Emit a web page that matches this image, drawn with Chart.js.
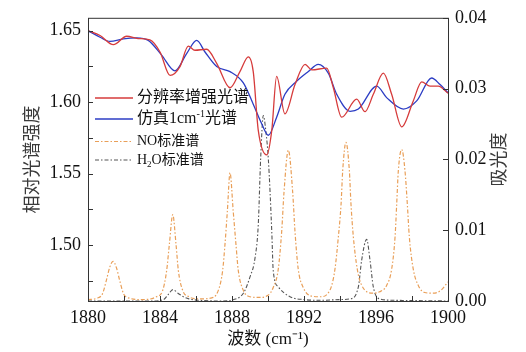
<!DOCTYPE html>
<html>
<head>
<meta charset="utf-8">
<script src="https://cdn.jsdelivr.net/npm/chart.js@4"></script>
<style>
  html, body { margin: 0; padding: 0; background: #fff; }
  #wrap { width: 526px; height: 352px; }
</style>
</head>
<body>
<div id="wrap"><canvas id="spectrum" width="526" height="352"></canvas></div>
<script>
// wavenumber (cm-1), relative intensity -- left axis
const enhancedSpectrum = [
  [1880.0, 1.650], [1880.67, 1.6466], [1881.41, 1.6402], [1882.15, 1.6461], [1882.78, 1.6445],
  [1883.44, 1.6436], [1884.0, 1.6351], [1884.56, 1.6187], [1885.11, 1.6249], [1885.57, 1.6392],
  [1885.94, 1.6363], [1886.59, 1.6370], [1887.15, 1.6272], [1887.89, 1.6101], [1888.44, 1.6214],
  [1888.91, 1.6317], [1889.18, 1.6214], [1889.46, 1.5803], [1889.93, 1.5632], [1890.21, 1.5803],
  [1890.48, 1.6180], [1890.94, 1.5918], [1891.5, 1.6123], [1892.06, 1.6265], [1892.43, 1.6226],
  [1893.26, 1.6238], [1893.63, 1.6101], [1894.09, 1.5895], [1894.93, 1.6021], [1895.39, 1.5934],
  [1895.85, 1.6055], [1896.41, 1.6203], [1896.87, 1.6055], [1897.43, 1.5827], [1898.07, 1.6009],
  [1898.54, 1.6142], [1899.0, 1.6112], [1899.46, 1.6112], [1900.0, 1.6062]
];
const simulatedSpectrum = [
  [1880.0, 1.650], [1880.67, 1.6454], [1881.22, 1.6425], [1881.96, 1.6443], [1882.7, 1.645],
  [1883.35, 1.6432], [1884.09, 1.6329], [1884.83, 1.6219], [1885.48, 1.634], [1886.04, 1.6432],
  [1886.5, 1.6351], [1887.15, 1.6249], [1887.89, 1.6214], [1888.63, 1.6135], [1889.18, 1.5986],
  [1889.65, 1.5849], [1890.02, 1.5769], [1890.48, 1.5895], [1890.94, 1.6055], [1891.59, 1.6146],
  [1892.24, 1.6214], [1892.79, 1.6265], [1893.35, 1.6203], [1893.82, 1.6055], [1894.56, 1.5936],
  [1895.02, 1.5952], [1896.04, 1.6112], [1896.59, 1.6032], [1897.52, 1.5952], [1898.26, 1.6009],
  [1899.09, 1.6169], [1899.56, 1.6123], [1900.0, 1.6066]
];
// absorbance -- right axis
const noReference = [
  [1880.0, 0.0002], [1880.5, 0.0004], [1880.8, 0.0010], [1881.02, 0.0029], [1881.2, 0.0047],
  [1881.39, 0.0056], [1881.58, 0.0047], [1881.76, 0.0029], [1881.98, 0.0010], [1882.3, 0.0004],
  [1883.0, 0.0002], [1883.8, 0.0006], [1884.15, 0.0015], [1884.37, 0.0043], [1884.52, 0.0080],
  [1884.71, 0.0122], [1884.89, 0.0080], [1885.02, 0.0043], [1885.26, 0.0015], [1885.6, 0.0006],
  [1886.2, 0.0003], [1886.8, 0.0004], [1887.24, 0.0015], [1887.48, 0.0043], [1887.61, 0.0080],
  [1887.74, 0.0126], [1887.89, 0.0181], [1888.07, 0.0126], [1888.22, 0.0080], [1888.35, 0.0043],
  [1888.63, 0.0015], [1889.0, 0.0006], [1889.5, 0.0005], [1890.0, 0.0008], [1890.29, 0.0019],
  [1890.57, 0.0045], [1890.76, 0.0098], [1890.89, 0.0154], [1891.13, 0.0213], [1891.37, 0.0154],
  [1891.5, 0.0098], [1891.68, 0.0045], [1891.96, 0.0019], [1892.4, 0.0007], [1892.9, 0.0006],
  [1893.3, 0.0010], [1893.54, 0.0022], [1893.72, 0.0045], [1893.91, 0.0091], [1894.06, 0.0137],
  [1894.15, 0.0184], [1894.33, 0.0224], [1894.52, 0.0184], [1894.61, 0.0137], [1894.74, 0.0091],
  [1894.96, 0.0045], [1895.21, 0.0022], [1895.85, 0.0011], [1896.2, 0.0013], [1896.59, 0.0022],
  [1896.87, 0.0045], [1897.06, 0.0091], [1897.15, 0.0137], [1897.24, 0.0184], [1897.43, 0.0214],
  [1897.61, 0.0184], [1897.74, 0.0137], [1897.85, 0.0091], [1898.07, 0.0045], [1898.35, 0.0022],
  [1898.7, 0.0012], [1899.18, 0.0011], [1899.6, 0.0015], [1900.0, 0.0027]
];
const h2oReference = [
  [1880.0, 0.0000], [1883.5, 0.0000], [1884.2, 0.0002], [1884.45, 0.0009], [1884.72, 0.0016],
  [1885.0, 0.0011], [1885.3, 0.0006], [1885.6, 0.0003], [1886.2, 0.0001], [1887.5, 0.0000],
  [1888.1, 0.0002], [1888.63, 0.0011], [1889.0, 0.0034], [1889.28, 0.0061], [1889.46, 0.0108],
  [1889.59, 0.0200], [1889.74, 0.0262], [1889.88, 0.0240], [1890.02, 0.0200], [1890.21, 0.0098],
  [1890.29, 0.0043], [1890.57, 0.0020], [1891.22, 0.0006], [1892.0, 0.0002], [1893.0, 0.0001],
  [1894.0, 0.0002], [1894.56, 0.0003], [1895.02, 0.0020], [1895.2, 0.0057], [1895.48, 0.0087],
  [1895.67, 0.0057], [1895.85, 0.0020], [1896.2, 0.0003], [1897.0, 0.0001], [1900.0, 0.0000]
];

// legend text, split so sub/superscripts can be drawn
const legendLabels = [
  [{ t: '分辨率增强光谱' }],
  [{ t: '仿真1cm' }, { t: '-1', sup: true }, { t: '光谱' }],
  [{ t: 'NO标准谱' }],
  [{ t: 'H' }, { t: '2', sub: true }, { t: 'O标准谱' }]
];
const rightTitle = '吸光度';

const FONT = '"Liberation Serif", "Times New Roman", Times, "Noto Sans CJK SC", serif';
const INK = '#111';

const toXY = arr => arr.map(p => ({ x: p[0], y: p[1] }));

const frameAndTicks = {
    id: 'frameAndTicks',
    afterDatasetsDraw(chart) {
        const { ctx, chartArea: a, scales } = chart;
        ctx.save();
        ctx.strokeStyle = '#333';
        ctx.lineWidth = 1;
        ctx.strokeRect(a.left + 0.5, a.top + 0.5, a.right - a.left, a.bottom - a.top);
        ctx.beginPath();
        scales.x.ticks.forEach(t => {
            const px = Math.round(scales.x.getPixelForValue(t.value)) + 0.5;
            ctx.moveTo(px, a.bottom); ctx.lineTo(px, a.bottom - 5);
        });
        scales.y.ticks.forEach(t => {
            const py = Math.round(scales.y.getPixelForValue(t.value)) + 0.5;
            ctx.moveTo(a.left, py); ctx.lineTo(a.left + 5, py);
        });
        scales.y2.ticks.forEach(t => {
            const py = Math.round(scales.y2.getPixelForValue(t.value)) + 0.5;
            ctx.moveTo(a.right, py); ctx.lineTo(a.right - 5, py);
        });
        ctx.stroke();
        ctx.restore();
    },
    afterDraw(chart) {
        const { ctx, chartArea: a } = chart;
        const rows = [
            { y: 98, size: 16 }, { y: 119, size: 16 }, { y: 141.5, size: 14 }, { y: 160, size: 14 }
        ];
        ctx.save();
        chart.data.datasets.forEach((ds, i) => {
            const r = rows[i];
            ctx.strokeStyle = ds.borderColor;
            ctx.lineWidth = ds.borderWidth;
            ctx.setLineDash(ds.borderDash || []);
            ctx.beginPath();
            ctx.moveTo(95, r.y); ctx.lineTo(133, r.y);
            ctx.stroke();
            ctx.setLineDash([]);
            ctx.fillStyle = INK;
            ctx.textBaseline = 'middle';
            let x = 137;
            legendLabels[i].forEach(part => {
                const small = part.sup || part.sub;
                const sz = small ? Math.round(r.size * 0.62) : r.size;
                ctx.font = sz + 'px ' + FONT;
                const dy = part.sup ? -r.size * 0.32 : part.sub ? r.size * 0.3 : 0;
                ctx.fillText(part.t, x, r.y + dy);
                x += ctx.measureText(part.t).width;
            });
        });
        // right axis title reads bottom-to-top like the left one
        ctx.translate(500, (a.top + a.bottom) / 2);
        ctx.rotate(-Math.PI / 2);
        ctx.font = '18px ' + FONT;
        ctx.fillStyle = '#3a3a3a';
        ctx.textAlign = 'center';
        ctx.textBaseline = 'middle';
        ctx.fillText(rightTitle, 0, 0);
        ctx.restore();
    }
};

const ctx = document.getElementById('spectrum').getContext('2d');
new Chart(ctx, {
    type: 'line',
    data: {
        datasets: [
            { label: '分辨率增强光谱', data: toXY(enhancedSpectrum), yAxisID: 'y', borderColor: '#d63b3b', borderWidth: 1.3, pointRadius: 0, cubicInterpolationMode: 'monotone', fill: false },
            { label: '仿真1cm-1光谱', data: toXY(simulatedSpectrum), yAxisID: 'y', borderColor: '#2c3dc4', borderWidth: 1.3, pointRadius: 0, cubicInterpolationMode: 'monotone', fill: false },
            { label: 'NO标准谱', data: toXY(noReference), yAxisID: 'y2', borderColor: '#e99f58', borderWidth: 1.2, borderDash: [4, 2, 1.5, 2], pointRadius: 0, cubicInterpolationMode: 'monotone', fill: false },
            { label: 'H2O标准谱', data: toXY(h2oReference), yAxisID: 'y2', borderColor: '#555555', borderWidth: 1.1, borderDash: [4, 2, 1.5, 2], pointRadius: 0, cubicInterpolationMode: 'monotone', fill: false }
        ]
    },
    options: {
        responsive: false,
        animation: false,
        layout: { padding: { top: 12, left: 0, right: 0, bottom: 0 } },
        plugins: { legend: { display: false }, tooltip: { enabled: false } },
        scales: {
            x: {
                type: 'linear', min: 1880, max: 1900,
                grid: { display: false, drawTicks: false },
                border: { display: false },
                ticks: {
                    stepSize: 2, autoSkip: false, maxRotation: 0, padding: 6, color: INK,
                    font: { family: FONT, size: 18 },
                    callback: v => (v % 4 === 0 ? String(v) : '')
                },
                title: { display: true, text: '波数 (cm⁻¹)', color: INK, font: { family: FONT, size: 17 }, padding: { top: 0, bottom: 2 } },
                afterFit: s => { s.height = 51; }
            },
            y: {
                position: 'left', min: 1.461, max: 1.659,
                grid: { display: false, drawTicks: false },
                border: { display: false },
                ticks: {
                    stepSize: 0.025, includeBounds: false, autoSkip: false, padding: 7, color: INK,
                    font: { family: FONT, size: 18 },
                    callback: v => (Math.round(v * 1000) % 50 === 0 ? v.toFixed(2) : '')
                },
                title: { display: true, text: '相对光谱强度', color: '#3a3a3a', font: { family: FONT, size: 18 }, padding: { top: 22, bottom: 0 } },
                afterFit: s => { s.width = 88; }
            },
            y2: {
                position: 'right', min: 0, max: 0.04,
                grid: { display: false, drawTicks: false },
                border: { display: false },
                ticks: {
                    stepSize: 0.01, autoSkip: false, padding: 7, color: INK,
                    font: { family: FONT, size: 18 },
                    callback: v => v.toFixed(2)
                },
                title: { display: false },
                afterFit: s => { s.width = 78; }
            }
        }
    },
    plugins: [frameAndTicks]
});
</script>
</body>
</html>
